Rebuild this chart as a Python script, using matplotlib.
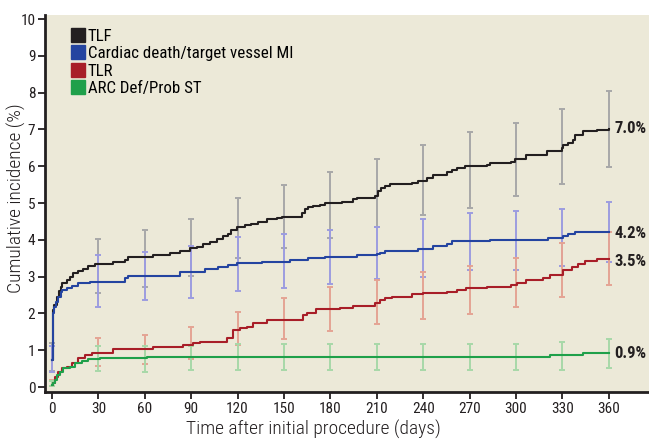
import numpy as np
import matplotlib
matplotlib.use("Agg")
from matplotlib import pyplot as plt
from matplotlib.lines import Line2D

plt.rcParams['font.family'] = ['Roboto Condensed', 'Roboto', 'DejaVu Sans']

# step curves (day, cumulative %)
tlf_day = [0, 0.9, 1.5, 3.0, 4.5, 5.8, 6.5, 9.5, 11.6, 13.8, 17, 20.3, 23.5, 27.8, 39.6, 47.2, 49.3,
           65.5, 76.3, 82.7, 89.2, 93.5, 97.8, 102, 106.5, 110.7, 114, 116, 119.4, 124.8, 129, 133.4,
           138.8, 145.2, 148.5, 161.4, 163.5, 165.7, 169, 173.2, 176.5, 187.3, 194.8, 197, 208.8,
           211, 213, 215.3, 218.5, 232.5, 236.8, 242.2, 246.5, 255.1, 258.4, 261.6, 267, 281, 283.1,
           297.1, 299.3, 302.5, 306.8, 319.8, 329.5, 330.6, 333.8, 337, 338.1, 343.5, 352.1, 360]
tlf_val = [0.73, 2.09, 2.23, 2.45, 2.6, 2.72, 2.82, 2.91, 3.0, 3.09, 3.16, 3.22, 3.29, 3.33, 3.4, 3.45,
           3.54, 3.59, 3.63, 3.7, 3.77, 3.81, 3.88, 3.95, 4.01, 4.1, 4.17, 4.27, 4.36, 4.39, 4.43, 4.49,
           4.56, 4.58, 4.63, 4.72, 4.83, 4.88, 4.92, 4.95, 4.99, 5.04, 5.1, 5.15, 5.2,
           5.33, 5.4, 5.46, 5.51, 5.55, 5.61, 5.67, 5.76, 5.85, 5.9, 5.96, 6.0, 6.03, 6.08,
           6.12, 6.19, 6.21, 6.3, 6.41, 6.49, 6.58, 6.64, 6.71, 6.85, 6.96, 6.98, 7.0]

cd_day = [0, 0.9, 1.5, 2.6, 4.1, 5.8, 6.3, 9.5, 12.7, 17, 24.6, 47.2, 49.3, 82.7, 98.9, 107.5, 114,
          119.4, 135.5, 153.8, 165.7, 176.5, 197, 209.9, 212, 215.3, 236.8, 246.5, 255.1, 258.4,
          283.1, 320.9, 330.6, 333.8, 338.1, 360]
cd_val = [0.73, 2.0, 2.18, 2.3, 2.45, 2.59, 2.64, 2.7, 2.75, 2.82, 2.86, 2.95, 3.03, 3.12, 3.21, 3.27,
          3.32, 3.36, 3.4, 3.45, 3.5, 3.54, 3.58, 3.61, 3.65, 3.7, 3.75, 3.84, 3.9, 3.97,
          4.0, 4.06, 4.11, 4.16, 4.21, 4.21]

tlr_day = [0, 0.9, 1.9, 4.1, 6.3, 9.5, 12.7, 17, 21.3, 25.6, 39.6, 65.5, 84.9, 91.4, 95.7, 112.9,
           117.2, 121.5, 125.9, 130.2, 138.8, 162.4, 164.6, 171, 186.2, 194.8, 208.8, 212, 215.3,
           219.6, 232.5, 240, 255.1, 261.6, 268, 281, 297.1, 300.4, 306.8, 317.6, 321.9, 330.6,
           335.9, 340.2, 344.5, 352.1, 360]
tlr_val = [0.05, 0.12, 0.28, 0.42, 0.51, 0.55, 0.66, 0.78, 0.87, 0.92, 1.03, 1.1, 1.14, 1.19, 1.23, 1.32,
           1.55, 1.6, 1.64, 1.73, 1.82, 1.96, 2.02, 2.11, 2.16, 2.2, 2.29, 2.36, 2.41,
           2.45, 2.52, 2.55, 2.59, 2.64, 2.68, 2.73, 2.77, 2.84, 2.91, 2.97, 3.04, 3.18,
           3.27, 3.34, 3.43, 3.47, 3.47]

st_day = [0, 0.9, 1.9, 3.0, 5.2, 7.3, 11.6, 14.9, 19.2, 23.5, 31.0, 61.2, 321.9, 343.5, 360]
st_val = [0.05, 0.1, 0.19, 0.33, 0.42, 0.51, 0.55, 0.64, 0.71, 0.75, 0.8, 0.82, 0.87, 0.92, 0.92]

# confidence intervals at 0, 30, ..., 360 days
ci_days = [0, 30, 60, 90, 120, 150, 180, 210, 240, 270, 300, 330, 360]
tlf_lo = [0.44, 2.56, 2.73, 3.02, 3.52, 3.79, 4.05, 4.34, 4.67, 4.87, 5.19, 5.51, 5.98]
tlf_hi = [1.19, 4.02, 4.27, 4.56, 5.14, 5.5, 5.84, 6.2, 6.58, 6.92, 7.18, 7.56, 8.04]
cd_lo = [0.42, 2.18, 2.36, 2.43, 2.62, 2.68, 2.8, 2.93, 3.0, 3.18, 3.18, 3.29, 3.4]
cd_hi = [1.12, 3.59, 3.68, 3.84, 4.08, 4.16, 4.27, 4.35, 4.56, 4.72, 4.79, 4.83, 5.02]
tlr_lo = [0.02, 0.58, 0.63, 0.75, 1.15, 1.3, 1.52, 1.71, 1.86, 1.98, 2.17, 2.45, 2.77]
tlr_hi = [0.2, 1.32, 1.42, 1.63, 2.05, 2.43, 2.71, 2.9, 3.12, 3.3, 3.5, 3.92, 4.22]
st_lo = [0.02, 0.43, 0.41, 0.46, 0.46, 0.46, 0.46, 0.46, 0.46, 0.46, 0.46, 0.46, 0.52]
st_hi = [0.16, 1.12, 1.12, 1.12, 1.16, 1.16, 1.16, 1.16, 1.16, 1.16, 1.16, 1.23, 1.31]

names = ['TLF', 'Cardiac death/target vessel MI', 'TLR', 'ARC Def/Prob ST']
line_cols = ['#231f20', '#2444a0', '#a81e28', '#1fa04a']
bar_cols = ['#a8a8a8', '#9c9ce0', '#e4a494', '#a8d8a8']
end_labels = ['7.0%', '4.2%', '3.5%', '0.9%']
end_y = [7.03, 4.18, 3.4, 0.92]

series = [(tlf_day, tlf_val, tlf_lo, tlf_hi),
          (cd_day, cd_val, cd_lo, cd_hi),
          (tlr_day, tlr_val, tlr_lo, tlr_hi),
          (st_day, st_val, st_lo, st_hi)]

fig = plt.figure(figsize=(6.49, 4.41), dpi=100)
ax = fig.add_axes([0.0693, 0.111, 0.9307, 0.855])
ax.set_facecolor('#ece9d8')

for (d, v, lo, hi), lc, bc in zip(series, line_cols, bar_cols):
    mid = [(a + b) / 2 for a, b in zip(lo, hi)]
    err = [[m - a for m, a in zip(mid, lo)], [b - m for m, b in zip(mid, hi)]]
    ax.errorbar(ci_days, mid, yerr=err, fmt='none', ecolor=bc, elinewidth=1.4,
                capsize=2.5, capthick=1.4, zorder=2)

for (d, v, lo, hi), lc in zip(series, line_cols):
    ax.plot(d, v, drawstyle='steps-post', color=lc, lw=1.5, zorder=3)

for txt, yy in zip(end_labels, end_y):
    ax.text(363.5, yy, txt, fontsize=12, fontweight='bold', color='#231f20',
            va='center', ha='left')

handles = [Line2D([], [], ls='none', marker='s', markersize=9.5, color=c) for c in line_cols]
ax.legend(handles, names, loc='upper left', bbox_to_anchor=(0.023, 0.995), frameon=False,
          fontsize=12.2, handlelength=0.8, handletextpad=0.2, labelspacing=0.15,
          borderaxespad=0.3)

ax.set_xlim(-4.5, 386)
ax.set_ylim(-0.136, 10.11)
ax.set_xticks(range(0, 361, 30))
ax.set_yticks(range(0, 11))
for s in ['top', 'right']:
    ax.spines[s].set_visible(False)
for s in ['left', 'bottom']:
    ax.spines[s].set_linewidth(2)
    ax.spines[s].set_color('#231f20')
ax.tick_params(direction='out', length=5, width=1.3, color='#231f20',
               labelsize=11, labelcolor='#231f20', pad=2)
ax.set_xlabel('Time after initial procedure (days)', fontsize=14, fontweight='light',
              color='#231f20')
ax.set_ylabel('Cumulative incidence (%)', fontsize=14, fontweight='light', color='#231f20')
ax.xaxis.set_label_coords(0.445, -0.074)
ax.yaxis.set_label_coords(-0.031, 0.513)

fig.savefig('out.png', dpi=100)
